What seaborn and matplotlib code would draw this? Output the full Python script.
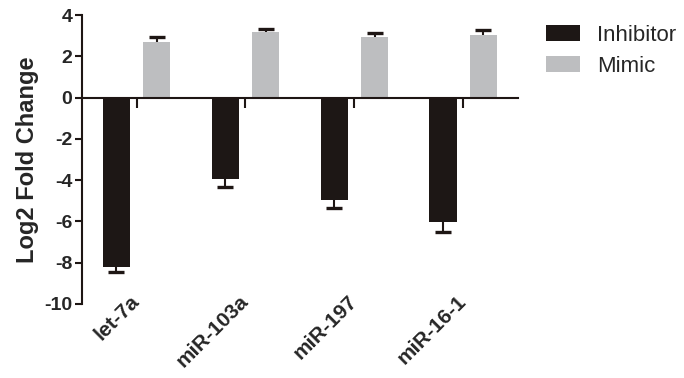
import pandas as pd
import matplotlib
matplotlib.use("Agg")
import matplotlib.pyplot as plt
import seaborn as sns

# values
mirnas = ["let-7a", "miR-103a", "miR-197", "miR-16-1"]
inhibitor = [-8.23, -3.93, -4.97, -6.03]
inhibitor_err = [0.22, 0.39, 0.40, 0.50]
mimic = [2.72, 3.17, 2.93, 3.06]
mimic_err = [0.21, 0.15, 0.18, 0.21]
groups = ["Inhibitor", "Mimic"]
colors = ["#1e1614", "#bcbec0"]

df = pd.DataFrame({
    "miRNA": mirnas * 2,
    "treatment": [groups[0]] * 4 + [groups[1]] * 4,
    "value": inhibitor + mimic,
})
errs = [inhibitor_err, mimic_err]

sns.set_style("ticks")
plt.rcParams["font.family"] = ["Liberation Sans", "DejaVu Sans"]
plt.rcParams["axes.unicode_minus"] = False

fig = plt.figure(figsize=(6.84, 3.78), dpi=100)
ax = fig.add_axes([0.12, 0.196, 0.637, 0.764])

sns.barplot(data=df, x="miRNA", y="value", hue="treatment", palette=colors,
            width=0.74, gap=0.32, errorbar=None, linewidth=0, ax=ax, zorder=2)

# one-sided error bars, pointing away from zero
ink = "#1e1614"
for cont, err in zip(ax.containers, errs):
    for patch, e in zip(cont.patches, err):
        xc = patch.get_x() + patch.get_width() / 2
        val = patch.get_y() + patch.get_height()
        end = val + e if val >= 0 else val - e
        ax.plot([xc, xc], [val, end], color=ink, lw=1.5, zorder=3, solid_capstyle="butt")
        ax.plot([xc], [end], marker="_", markersize=12, mew=2.4, color=ink, zorder=3)

ax.set_ylim(-10, 4)
ax.set_xlim(-0.5, 3.5)
ax.set_yticks(range(-10, 5, 2))
ax.set_ylabel("Log2 Fold Change", fontsize=17, fontweight="bold", labelpad=4)
ax.set_xlabel("")

for s in ["top", "right"]:
    ax.spines[s].set_visible(False)
for s in ["left", "bottom"]:
    ax.spines[s].set_linewidth(1.5)
    ax.spines[s].set_color(ink)
    ax.spines[s].set_zorder(4)
ax.spines["bottom"].set_position(("data", 0))

ax.tick_params(axis="y", direction="out", length=5, width=1.5, labelsize=14, pad=2, color=ink)
ax.tick_params(axis="x", direction="out", length=7, width=1.5, labelbottom=False, color=ink)
for lab in ax.get_yticklabels():
    lab.set_fontweight("bold")

sec = ax.secondary_xaxis("bottom")
sec.spines["bottom"].set_visible(False)
sec.tick_params(length=0, pad=-4)
sec.set_xticks(range(len(mirnas)), labels=mirnas, fontsize=15, fontweight="bold",
               rotation=45, ha="right", va="center", rotation_mode="anchor")

leg = ax.legend(loc="upper left", bbox_to_anchor=(0.798, 0.935), bbox_transform=fig.transFigure,
                frameon=False, fontsize=16, handlelength=1.55, handleheight=0.7,
                handletextpad=0.75, labelspacing=0.45, borderpad=0, borderaxespad=0)

fig.savefig("out.png", dpi=100)
